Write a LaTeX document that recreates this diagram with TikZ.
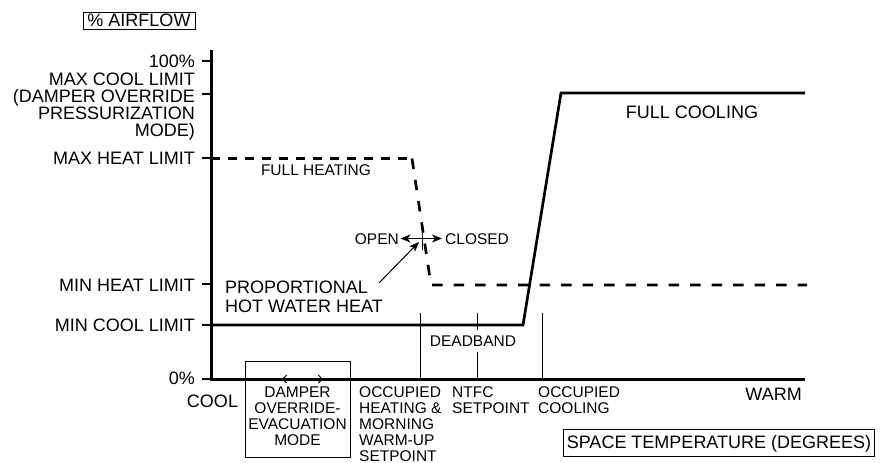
\documentclass[tikz,border=0pt]{standalone}
\usepackage{fontspec}
\setmainfont{Liberation Sans}
\usetikzlibrary{arrows.meta}
\tikzset{
  pointy/.tip={Stealth[length=10pt,width=8pt,inset=3pt]},
  barb/.tip={Straight Barb[length=4pt,width=8pt]},
}
\begin{document}
\begin{tikzpicture}[x=1pt,y=-1pt,
  big/.style={font=\fontsize{18}{17}\selectfont, inner sep=0pt},
  bigone/.style={big, text height=12.9pt, text depth=0pt},
  small/.style={font=\fontsize{15.5}{16}\selectfont, inner sep=0pt},
  smallone/.style={small, text height=11.1pt, text depth=0pt},
  axisline/.style={line width=3pt, line join=miter},
  curve/.style={line width=2.7pt, line join=miter},
  heatline/.style={line width=2.7pt, line join=miter, dash pattern=on 10.5pt off 11pt},
  heattop/.style={line width=2.7pt, dash pattern=on 9pt off 8pt},
  thinline/.style={line width=1pt},
  tickmark/.style={line width=1.3pt},
  labelbox/.style={draw, line width=0.9pt},
]
\useasboundingbox (0,0) rectangle (881,463);

% axes
\coordinate (Ytop) at (211,50);
\coordinate (O) at (211,379);
\coordinate (Xend) at (805,379);
\draw[axisline] (Ytop) -- (O) -- (Xend);

% ticks
\foreach \yy/\nm in {61/t100,94/tmaxcool,158/tmaxheat,284/tminheat,325/tmincool,379/tzero}{
  \coordinate (\nm a) at (202,\yy);
  \coordinate (\nm b) at (211,\yy);
  \draw[tickmark] (\nm a) -- (\nm b);
}

% y labels
\node[bigone, anchor=east] (l100) at (195,61) {100\%};
\node[big, anchor=north east, align=right] (lmaxcool) at (195,72.5)
  {MAX COOL LIMIT\\(DAMPER OVERRIDE\\PRESSURIZATION\\MODE)};
\node[bigone, anchor=east] (lmaxheat) at (195,158) {MAX HEAT LIMIT};
\node[bigone, anchor=east] (lminheat) at (195,285) {MIN HEAT LIMIT};
\node[bigone, anchor=east] (lmincool) at (195,325) {MIN COOL LIMIT};
\node[bigone, anchor=east] (lzero) at (195,378) {0\%};

% heating (dashed)
\coordinate (h0) at (211,158.5);
\coordinate (h1) at (412,158.5);
\coordinate (h2) at (431,285);
\coordinate (h3) at (807,285);
\draw[heattop] (h0) -- (h1);
\draw[heatline] (h1) -- (h2) -- (h3);

% cooling (solid)
\coordinate (c0) at (211,325);
\coordinate (c1) at (523,325);
\coordinate (c2) at (561,93);
\coordinate (c3) at (805,93);
\draw[curve] (c0) -- (c1) -- (c2) -- (c3);

% setpoint verticals
\coordinate (v1a) at (420,313); \coordinate (v1b) at (420,379);
\coordinate (v2a) at (477,313); \coordinate (v2b) at (477,379);
\coordinate (v3a) at (542,313); \coordinate (v3b) at (542,379);
\draw[thinline] (v1a) -- (v1b);
\draw[thinline] (v2a) -- (v2b);
\draw[thinline] (v3a) -- (v3b);
\node[smallone, fill=white, inner ysep=5pt, inner xsep=1pt] (deadband) at (473,341) {DEADBAND};

% curve labels
\node[bigone] (fullcool) at (692,112) {FULL COOLING};
\node[smallone] (fullheat) at (316,170) {FULL HEATING};

% open / closed
\coordinate (xa) at (422,224); \coordinate (xb) at (422,250);
\draw[thinline] (xa) -- (xb);
\node[smallone, anchor=east] (open) at (399,238.5) {OPEN};
\node[smallone, anchor=west] (closed) at (445,238.5) {CLOSED};
\coordinate (ocL) at (400.5,238.5);
\coordinate (ocR) at (442,238.5);
\draw[thinline, pointy-pointy] (ocL) -- (ocR);

% proportional hot water heat
\node[big, anchor=north west, align=left, font=\fontsize{18}{18.5}\selectfont] (prop) at (225,281)
  {PROPORTIONAL\\HOT WATER HEAT};
\coordinate (ptrA) at (379,283);
\coordinate (ptrB) at (419,242);
\draw[thinline, -pointy] (ptrA) -- (ptrB);

% x labels
\node[bigone] (cool) at (212.5,401) {COOL};
\node[bigone, anchor=east] (warm) at (802,394) {WARM};

\draw[thinline] (245,361) rectangle (350,457);
\coordinate (dA) at (282,379);
\coordinate (dB) at (323,379);
\draw[line width=0.9pt, barb-barb] (dA) -- (dB);
\node[small, anchor=north, align=center] (damper) at (297.5,386.2)
  {DAMPER\\OVERRIDE-\\EVACUATION\\MODE};
\node[small, anchor=north west, align=left] (occheat) at (359,386.2)
  {OCCUPIED\\HEATING \&\\MORNING\\WARM-UP\\SETPOINT};
\node[small, anchor=north west, align=left] (ntfc) at (452,386.2)
  {NTFC\\SETPOINT};
\node[small, anchor=north west, align=left] (occcool) at (538,386.2)
  {OCCUPIED\\COOLING};

% axis titles
\node[bigone, labelbox, inner xsep=4.5pt, inner ysep=2pt] (airflow) at (139,20.5) {\% AIRFLOW};
\node[bigone, labelbox, inner xsep=3.5pt, inner ysep=7pt] (spacetemp) at (719,442.5) {SPACE TEMPERATURE (DEGREES)};
\end{tikzpicture}
\end{document}
